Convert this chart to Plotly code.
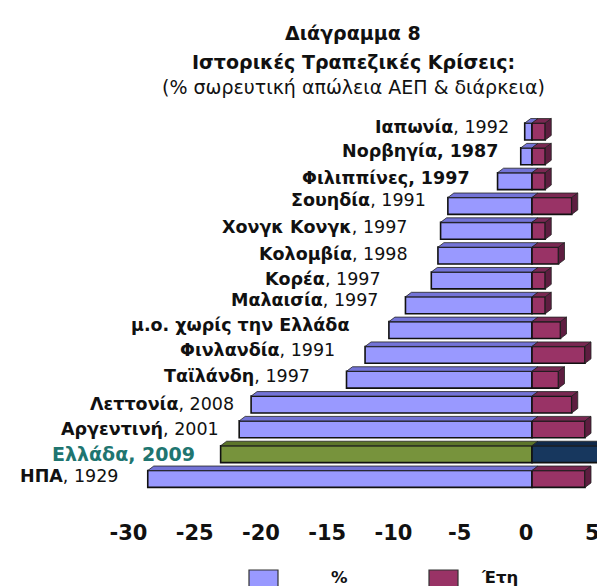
import plotly.graph_objects as go

# ---------------- data ----------------
countries = ["Ιαπωνία", "Νορβηγία", "Φιλιππίνες", "Σουηδία", "Χονγκ Κονγκ",
             "Κολομβία", "Κορέα", "Μαλαισία", "μ.ο. χωρίς την Ελλάδα", "Φινλανδία",
             "Ταϊλάνδη", "Λεττονία", "Αργεντινή", "Ελλάδα", "ΗΠΑ"]
crisis_year = ["1992", "1987", "1997", "1991", "1997",
               "1998", "1997", "1997", "", "1991",
               "1997", "2008", "2001", "2009", "1929"]
gdp_loss_pct = [-0.55, -0.85, -2.6, -6.35, -6.9,
                -7.1, -7.6, -9.55, -10.8, -12.6,
                -14.0, -21.2, -22.1, -23.5, -29.0]
duration_years = [1, 1, 1, 3, 1,
                  2, 1, 1, 2.15, 4,
                  2, 3, 4, 6, 4]
tick_values = [-30, -25, -20, -15, -10, -5, 0, 5]
legend_labels = ["%", "Έτη"]
title_lines = ["Διάγραμμα 8", "Ιστορικές Τραπεζικές Κρίσεις:",
               "(% σωρευτική απώλεια ΑΕΠ & διάρκεια)"]

# ---------------- styling / layout constants ----------------
W, H = 605, 586
ML, MR, MT, MB = 0, 0, 0, 76
ZERO_PX, PX_PER_UNIT = 524, 13.25
ROW0_PX, ROW_PX = 123.5, 24.82
plot_w, plot_h = W - ML - MR, H - MT - MB
x_range = [(ML - ZERO_PX) / PX_PER_UNIT, (W - MR - ZERO_PX) / PX_PER_UNIT]
y_range = [(H - MB - ROW0_PX) / ROW_PX, (MT - ROW0_PX) / ROW_PX]

FONT = "DejaVu Sans"
BLUE, BLUE_TOP = "#9999FF", "#7373D6"
PURPLE, PURPLE_TOP, PURPLE_SIDE = "#993366", "#7A2852", "#5E1D40"
GREEN, GREEN_TOP = "#77933C", "#5C752A"
NAVY, NAVY_TOP, NAVY_SIDE = "#17375E", "#10294A", "#0B1F38"
GREECE = "Ελλάδα"
bold_all = {"Νορβηγία", "Φιλιππίνες", "μ.ο. χωρίς την Ελλάδα", "Ελλάδα"}
# label placement tweaks (pixels): x gap to bar end, vertical offset
label_dx = [-15, -22, -27, -21, -33, -29, -49, -25, -39, -29, -36, -16, -19, -25, -28]
label_dy = [5, 5.5, 3, 5.5, 3.5, 2, 1, 5.5, 5, 5, 4, 1, 0, 0.5, 3]

BAR_W = 0.68
HALF = BAR_W / 2
DX = 6 / PX_PER_UNIT
DY = 4.5 / ROW_PX

idx = list(range(len(countries)))
is_gr = [c == GREECE for c in countries]

fig = go.Figure()
fig.add_trace(go.Bar(
    x=gdp_loss_pct, y=idx, orientation="h", width=BAR_W, name=legend_labels[0],
    marker=dict(color=[GREEN if g else BLUE for g in is_gr],
                line=dict(color="#111111", width=1.6)),
    showlegend=False, hoverinfo="x"))
fig.add_trace(go.Bar(
    x=duration_years, y=idx, orientation="h", width=BAR_W, name=legend_labels[1],
    marker=dict(color=[NAVY if g else PURPLE for g in is_gr],
                line=dict(color="#111111", width=1.6)),
    showlegend=False, hoverinfo="x"))

shapes = []
def path(pts):
    return "M " + " L ".join(f"{x},{y}" for x, y in pts) + " Z"

for i, (v, d, g) in enumerate(zip(gdp_loss_pct, duration_years, is_gr)):
    top = i - HALF
    bot = i + HALF
    line = dict(color="#222222", width=0.8)
    shapes.append(dict(type="path", xref="x", yref="y", layer="above",
                       path=path([(v, top), (v + DX, top - DY), (DX, top - DY), (0, top)]),
                       fillcolor=GREEN_TOP if g else BLUE_TOP, line=line))
    shapes.append(dict(type="path", xref="x", yref="y", layer="above",
                       path=path([(0, top), (DX, top - DY), (d + DX, top - DY), (d, top)]),
                       fillcolor=NAVY_TOP if g else PURPLE_TOP, line=line))
    shapes.append(dict(type="path", xref="x", yref="y", layer="above",
                       path=path([(d, top), (d + DX, top - DY), (d + DX, bot - DY), (d, bot)]),
                       fillcolor=NAVY_SIDE if g else PURPLE_SIDE, line=line))

annotations = []
for i, (c, yr, v) in enumerate(zip(countries, crisis_year, gdp_loss_pct)):
    if c in bold_all:
        txt = f"<b>{c}{', ' + yr if yr else ''}</b>"
    else:
        txt = f"<b>{c}</b>, {yr}"
    annotations.append(dict(
        x=v, y=i, xref="x", yref="y", text=txt, showarrow=False,
        xanchor="right", yanchor="middle", xshift=label_dx[i], yshift=label_dy[i],
        borderpad=0,
        font=dict(family=FONT, size=17.5 if c != GREECE else 19,
                  color="#207570" if c == GREECE else "#111111")))

def px_x(p):
    return (p - ML) / plot_w
def px_y(p):
    return (H - MB - p) / plot_h

title_y = [25, 54, 79]
title_bold = [True, True, False]
for t, yy, b in zip(title_lines, title_y, title_bold):
    annotations.append(dict(
        x=px_x(345), y=px_y(yy), xref="paper", yref="paper", showarrow=False,
        text=f"<b>{t}</b>" if b else t, xanchor="center", yanchor="middle",
        font=dict(family=FONT, size=19, color="#111111")))

# legend (manual)
leg_boxes = [(241, BLUE), (421, PURPLE)]
leg_text_x = [331, 491]
for (lx, col), tx, lab in zip(leg_boxes, leg_text_x, legend_labels):
    shapes.append(dict(type="rect", xref="paper", yref="paper",
                       x0=px_x(lx), x1=px_x(lx + 29), y0=px_y(562), y1=px_y(592),
                       fillcolor=col, line=dict(color="#333333", width=1.2)))
    annotations.append(dict(
        x=px_x(tx), y=px_y(569), xref="paper", yref="paper", showarrow=False,
        text=f"<b>{lab}</b>", xanchor="center", yanchor="middle", borderpad=0,
        font=dict(family=FONT, size=16.5, color="#111111")))

fig.update_layout(
    width=W, height=H, margin=dict(l=ML, r=MR, t=MT, b=MB),
    paper_bgcolor="white", plot_bgcolor="white",
    barmode="overlay", showlegend=False,
    shapes=shapes, annotations=annotations,
    xaxis=dict(range=x_range, tickvals=tick_values, ticktext=[str(t) for t in tick_values],
               showgrid=False, zeroline=False, showline=False, ticks="",
               ticklabelshift=-6,
               tickfont=dict(family=FONT, size=21, color="#111111", weight="bold"),
               fixedrange=True),
    yaxis=dict(range=y_range, visible=False, fixedrange=True),
)

fig.write_html("out.html")
